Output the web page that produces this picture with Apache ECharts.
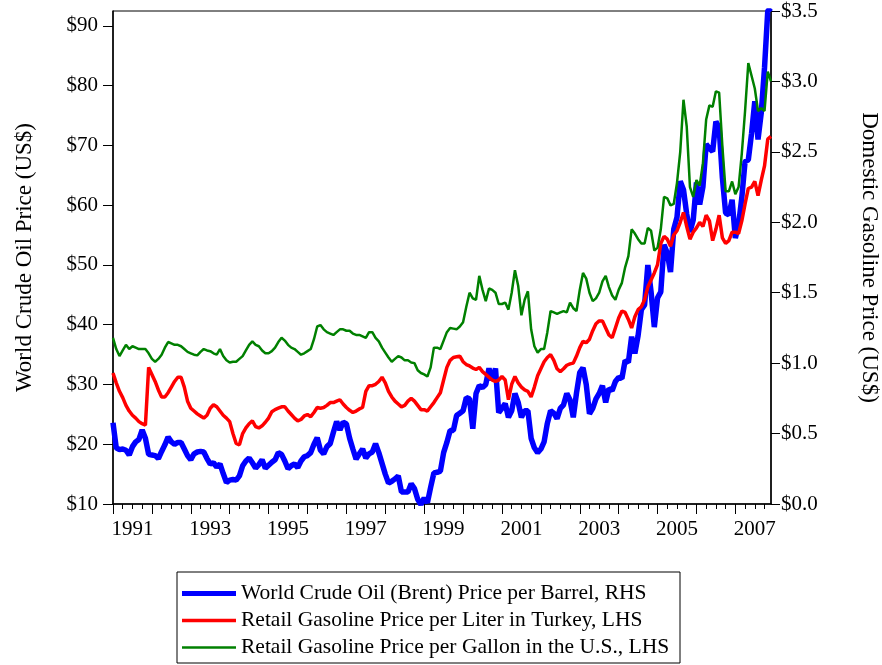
<!DOCTYPE html>
<html>
<head>
<meta charset="utf-8">
<script src="https://cdn.jsdelivr.net/npm/echarts@6/dist/echarts.min.js"></script>
<style>
html, body { margin: 0; padding: 0; background: #fff; }
#main { width: 882px; height: 665px; }
</style>
</head>
<body>
<div id="main"></div>
<script>
// monthly values, Jan 1991 .. Dec 2007
var firstYear = 1991
var lastYear = 2007
var yearLabels = ['1991', '1993', '1995', '1997', '1999', '2001', '2003', '2005', '2007']
var leftTicks = [10, 20, 30, 40, 50, 60, 70, 80, 90]

// Brent, US$ per barrel
var brent = [
  23.6, 19.4, 19.1, 19.2, 19.0, 18.2, 19.6, 20.4, 20.8, 22.4, 21.0, 18.3,
  18.2, 18.1, 17.6, 18.8, 19.9, 21.2, 20.4, 20.0, 20.3, 20.3, 19.2, 18.1,
  17.4, 18.4, 18.7, 18.8, 18.7, 17.6, 16.7, 16.9, 16.2, 16.7, 15.1, 13.6,
  14.0, 14.1, 14.0, 14.7, 16.4, 17.2, 17.7, 16.9, 16.0, 16.6, 17.4, 16.0,
  16.5, 17.0, 17.4, 18.6, 18.3, 17.2, 15.9, 16.4, 16.7, 16.1, 17.2, 17.9,
  18.1, 18.6, 20.0, 21.1, 19.0, 18.4, 19.6, 20.1, 22.0, 23.8, 22.4, 23.7,
  23.4, 21.0, 19.2, 17.5, 18.4, 19.2, 17.7, 18.4, 18.7, 20.1, 18.6, 16.8,
  15.0, 13.5, 13.8, 14.2, 14.7, 12.0, 12.0, 12.0, 13.4, 12.6, 10.8, 9.9,
  11.0, 10.2, 12.8, 15.2, 15.3, 15.5, 18.6, 20.3, 22.3, 22.3, 24.8, 25.2,
  25.6, 27.8, 27.6, 22.6, 28.5, 29.8, 29.5, 30.0, 32.7, 30.7, 32.7, 25.3,
  26.0, 26.8, 24.5, 25.6, 28.5, 27.0, 24.5, 25.6, 25.6, 21.0, 19.4, 18.6,
  19.2, 20.4, 23.5, 25.6, 25.2, 24.3, 26.0, 26.6, 28.5, 27.4, 24.5, 28.6,
  32.0, 32.8, 30.0, 25.1, 26.0, 27.6, 28.5, 29.8, 27.0, 29.3, 29.0, 30.5,
  31.2, 31.0, 34.0, 33.7, 38.0, 35.2, 38.2, 42.5, 43.3, 50.0, 45.5, 39.6,
  44.5, 45.5, 53.4, 52.0, 48.8, 56.0, 58.0, 64.0, 62.6, 58.5, 55.5, 57.5,
  63.8, 60.1, 63.1, 70.2, 69.5, 69.0, 74.0, 73.0, 64.6, 58.7, 58.4, 60.9,
  54.5, 56.7, 61.3, 67.3, 67.6, 72.0, 77.4, 71.0, 75.5, 83.0, 92.5, 93.0
]

// Turkey, US$ per liter
var turkey = [
  0.93, 0.86, 0.80, 0.755, 0.70, 0.66, 0.63, 0.61, 0.585, 0.57, 0.56, 0.97,
  0.92, 0.87, 0.81, 0.76, 0.76, 0.79, 0.83, 0.87, 0.90, 0.90, 0.83, 0.73,
  0.68, 0.66, 0.64, 0.625, 0.61, 0.63, 0.68, 0.705, 0.69, 0.66, 0.63, 0.61,
  0.585, 0.50, 0.43, 0.42, 0.50, 0.54, 0.57, 0.59, 0.55, 0.54, 0.555, 0.58,
  0.61, 0.655, 0.67, 0.68, 0.69, 0.69, 0.66, 0.635, 0.61, 0.59, 0.60, 0.625,
  0.635, 0.62, 0.65, 0.685, 0.68, 0.685, 0.70, 0.72, 0.72, 0.73, 0.74, 0.71,
  0.685, 0.665, 0.65, 0.66, 0.675, 0.685, 0.80, 0.84, 0.84, 0.85, 0.87, 0.90,
  0.86, 0.80, 0.76, 0.73, 0.71, 0.69, 0.70, 0.73, 0.75, 0.73, 0.70, 0.67,
  0.67, 0.66, 0.69, 0.72, 0.755, 0.79, 0.88, 0.97, 1.02, 1.04, 1.045, 1.05,
  1.01, 0.99, 0.98, 0.965, 0.955, 0.97, 0.94, 0.92, 0.90, 0.88, 0.87, 0.88,
  0.905, 0.88, 0.74, 0.85, 0.905, 0.86, 0.83, 0.81, 0.80, 0.76, 0.83, 0.91,
  0.96, 1.01, 1.04, 1.06, 1.02, 0.96, 0.94, 0.96, 0.985, 0.995, 1.00, 1.05,
  1.11, 1.155, 1.145, 1.17, 1.23, 1.28, 1.30, 1.30, 1.25, 1.20, 1.18, 1.25,
  1.32, 1.37, 1.36, 1.31, 1.25, 1.33, 1.38, 1.40, 1.45, 1.54, 1.59, 1.64,
  1.70, 1.85, 1.90, 1.88, 1.83, 1.91, 1.94, 2.00, 2.07, 1.97, 1.88, 1.93,
  1.96, 2.00, 1.97, 2.05, 2.01, 1.87, 1.95, 2.05, 1.89, 1.85, 1.87, 1.93,
  1.93, 1.92, 2.01, 2.13, 2.24, 2.25, 2.29, 2.19, 2.30, 2.40, 2.59, 2.61
]

// U.S., US$ per gallon
var usGas = [
  1.18, 1.10, 1.05, 1.09, 1.13, 1.10, 1.12, 1.11, 1.10, 1.10, 1.10, 1.07,
  1.03, 1.01, 1.03, 1.06, 1.11, 1.15, 1.14, 1.13, 1.13, 1.12, 1.10, 1.08,
  1.07, 1.06, 1.055, 1.08, 1.10, 1.09, 1.085, 1.07, 1.06, 1.10, 1.05, 1.02,
  1.005, 1.01, 1.01, 1.03, 1.05, 1.09, 1.13, 1.155, 1.13, 1.12, 1.09, 1.07,
  1.07, 1.085, 1.11, 1.15, 1.18, 1.16, 1.13, 1.11, 1.10, 1.08, 1.06, 1.07,
  1.085, 1.10, 1.17, 1.26, 1.27, 1.24, 1.22, 1.21, 1.20, 1.22, 1.24, 1.24,
  1.23, 1.23, 1.21, 1.20, 1.20, 1.19, 1.18, 1.22, 1.22, 1.18, 1.155, 1.11,
  1.075, 1.04, 1.01, 1.03, 1.05, 1.04, 1.02, 1.02, 1.005, 1.00, 0.95, 0.93,
  0.92, 0.905, 0.97, 1.11, 1.11, 1.10, 1.16, 1.22, 1.25, 1.245, 1.24, 1.26,
  1.29, 1.40, 1.50, 1.46, 1.45, 1.62, 1.52, 1.44, 1.53, 1.52, 1.50, 1.42,
  1.42, 1.43, 1.38, 1.50, 1.66, 1.55, 1.34, 1.45, 1.51, 1.24, 1.12, 1.075,
  1.10, 1.10, 1.22, 1.37, 1.36, 1.35, 1.36, 1.37, 1.36, 1.43, 1.39, 1.37,
  1.52, 1.64, 1.60, 1.50, 1.44, 1.46, 1.50, 1.58, 1.62, 1.54, 1.48, 1.45,
  1.52, 1.57, 1.68, 1.76, 1.95, 1.92, 1.88, 1.85, 1.85, 1.96, 1.94, 1.80,
  1.82, 1.95, 2.18, 2.17, 2.12, 2.13, 2.28, 2.50, 2.87, 2.68, 2.25, 2.18,
  2.30, 2.26, 2.42, 2.73, 2.83, 2.82, 2.93, 2.92, 2.54, 2.22, 2.22, 2.29,
  2.20, 2.25, 2.49, 2.79, 3.13, 3.04, 2.95, 2.79, 2.81, 2.79, 3.07, 3.00
]

var months = []
for (var y = firstYear; y <= lastYear; y++) {
  for (var m = 1; m <= 12; m++) {
    months.push(y + '-' + (m < 10 ? '0' + m : m))
  }
}

var serif = '"Liberation Serif", "Times New Roman", serif'
var black = '#000'

var chart = echarts.init(document.getElementById('main'))
chart.setOption({
  animation: false,
  textStyle: { fontFamily: serif, color: black },
  grid: {
    left: 113,
    right: 111,
    top: 11,
    bottom: 161,
    outerBoundsMode: 'none',
    containLabel: false,
    show: true,
    borderColor: black,
    borderWidth: 1
  },
  legend: {
    orient: 'vertical',
    left: 177,
    top: 572,
    padding: [8, 6, 2, 5],
    itemGap: 0,
    itemWidth: 54,
    itemHeight: 14,
    borderColor: black,
    borderWidth: 1,
    textStyle: { fontFamily: serif, fontSize: 21.5, lineHeight: 27, color: black, width: 433 },
    data: [
      { name: 'World Crude Oil (Brent) Price per Barrel, RHS', icon: 'path://M0,0h54v5h-54z' },
      { name: 'Retail Gasoline Price per Liter in Turkey, LHS', icon: 'path://M0,0h54v3.5h-54z' },
      { name: 'Retail Gasoline Price per Gallon in the U.S., LHS', icon: 'path://M0,0h54v2.5h-54z' }
    ]
  },
  xAxis: [
    {
      type: 'category',
      data: months,
      boundaryGap: false,
      position: 'bottom',
      axisLine: { lineStyle: { color: black, width: 1.5 } },
      axisTick: {
        length: 10,
        lineStyle: { color: black },
        interval: function (i, v) { return v.slice(5) === '01' }
      },
      axisLabel: {
        interval: function (i, v) {
          return v.slice(5) === '07' && yearLabels.indexOf(v.slice(0, 4)) >= 0
        },
        formatter: function (v) { return v.slice(0, 4) },
        fontFamily: serif,
        fontSize: 21,
        margin: 15,
        color: black
      },
      splitLine: { show: false }
    },
    {
      // quarter ticks
      type: 'category',
      data: months,
      boundaryGap: false,
      position: 'bottom',
      axisLine: { show: false },
      axisLabel: { show: false },
      axisTick: {
        length: 5,
        lineStyle: { color: black },
        interval: function (i, v) { return ['04', '07', '10'].indexOf(v.slice(5)) >= 0 }
      },
      splitLine: { show: false }
    }
  ],
  yAxis: [
    {
      type: 'value',
      position: 'left',
      min: 10,
      max: 92.5,
      interval: 10,
      name: 'World Crude Oil Price (US$)',
      nameLocation: 'middle',
      nameGap: 77,
      nameTextStyle: { fontFamily: serif, fontSize: 23, color: black },
      axisLine: { show: true, lineStyle: { color: black, width: 1.5 } },
      axisTick: { show: true, length: 10, lineStyle: { color: black }, customValues: leftTicks },
      axisLabel: {
        customValues: leftTicks,
        formatter: function (v) { return v % 10 === 0 ? '$' + v : '' },
        fontFamily: serif,
        fontSize: 21,
        margin: 15,
        color: black
      },
      splitLine: { show: false }
    },
    {
      type: 'value',
      position: 'right',
      min: 0,
      max: 3.5,
      interval: 0.5,
      name: 'Domestic Gasoline Price (US$)',
      nameLocation: 'middle',
      nameRotate: -90,
      nameGap: 87,
      nameTextStyle: { fontFamily: serif, fontSize: 23, color: black },
      axisLine: { show: true, lineStyle: { color: black, width: 1.5 } },
      axisTick: { show: true, length: 9, lineStyle: { color: black } },
      axisLabel: {
        formatter: function (v) { return '$' + v.toFixed(1) },
        fontFamily: serif,
        fontSize: 21,
        margin: 10,
        color: black
      },
      splitLine: { show: false }
    }
  ],
  series: [
    {
      name: 'World Crude Oil (Brent) Price per Barrel, RHS',
      type: 'line',
      yAxisIndex: 0,
      data: brent,
      symbol: 'none',
      lineStyle: { color: '#0000ff', width: 5.5 },
      itemStyle: { color: '#0000ff' }
    },
    {
      name: 'Retail Gasoline Price per Liter in Turkey, LHS',
      type: 'line',
      yAxisIndex: 1,
      data: turkey,
      symbol: 'none',
      lineStyle: { color: '#ff0000', width: 3.5 },
      itemStyle: { color: '#ff0000' }
    },
    {
      name: 'Retail Gasoline Price per Gallon in the U.S., LHS',
      type: 'line',
      yAxisIndex: 1,
      data: usGas,
      symbol: 'none',
      lineStyle: { color: '#008000', width: 2.5 },
      itemStyle: { color: '#008000' }
    }
  ]
})
</script>
</body>
</html>
